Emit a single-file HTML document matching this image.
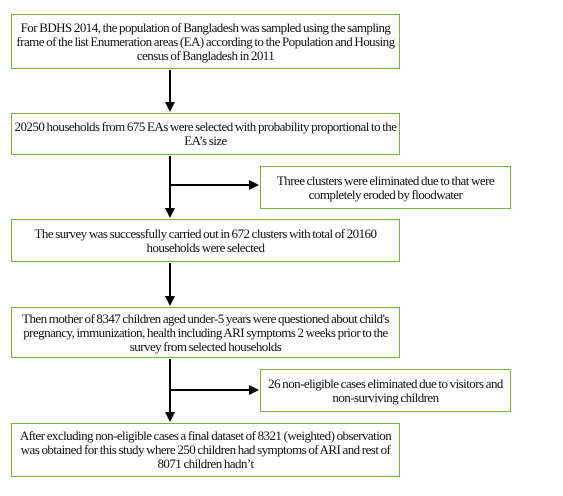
<!DOCTYPE html>
<html><head><meta charset="utf-8"><style>
body{margin:0;width:563px;height:496px;background:#fff;position:relative;font-family:"Liberation Serif",serif;font-size:13px;color:#111}
.b{position:absolute;box-sizing:border-box;border:1.5px solid #78b04a;display:flex;align-items:center;justify-content:center;text-align:center;line-height:14px;padding:0 2px;letter-spacing:-0.55px;word-spacing:-0.5px}
svg{position:absolute;left:0;top:0}
</style></head><body>
<svg width="563" height="496">
<defs><marker id="a" markerWidth="5" markerHeight="5" refX="4" refY="2.5" orient="auto" markerUnits="strokeWidth"><path d="M0,0L5,2.5L0,5z" fill="#000"/></marker></defs>
<g stroke="#000" stroke-width="2" fill="none">
<line x1="170" y1="70" x2="170" y2="110" marker-end="url(#a)"/>
<line x1="170" y1="156" x2="170" y2="216" marker-end="url(#a)"/>
<line x1="170" y1="185" x2="257" y2="185" marker-end="url(#a)"/>
<line x1="170" y1="263" x2="170" y2="304" marker-end="url(#a)"/>
<line x1="170" y1="359" x2="170" y2="420" marker-end="url(#a)"/>
<line x1="170" y1="390" x2="257" y2="390" marker-end="url(#a)"/>
</g></svg>
<div class="b" style="left:11px;top:14px;width:389px;height:55px">For BDHS 2014, the population of Bangladesh was sampled using the sampling frame of the list Enumeration areas (EA) according to the Population and Housing census of Bangladesh in 2011</div>
<div class="b" style="left:11px;top:113px;width:389px;height:42px">20250 households from 675 EAs were selected with probability proportional to the EA’s size</div>
<div class="b" style="left:260px;top:166px;width:251px;height:43px">Three clusters were eliminated due to that were completely eroded by floodwater</div>
<div class="b" style="left:11px;top:219px;width:389px;height:43px">The survey was successfully carried out in 672 clusters with total of 20160<br>households were selected</div>
<div class="b" style="left:11px;top:307px;width:389px;height:51px">Then mother of 8347 children aged under-5 years were questioned about child's pregnancy, immunization, health including ARI symptoms 2 weeks prior to the survey from selected households</div>
<div class="b" style="left:260px;top:369px;width:251px;height:43px">26 non-eligible cases eliminated due to visitors and non-surviving children</div>
<div class="b" style="left:11px;top:423px;width:389px;height:54px">After excluding non-eligible cases a final dataset of 8321 (weighted) observation was obtained for this study where 250 children had symptoms of ARI and rest of 8071 children hadn’t</div>
</body></html>
